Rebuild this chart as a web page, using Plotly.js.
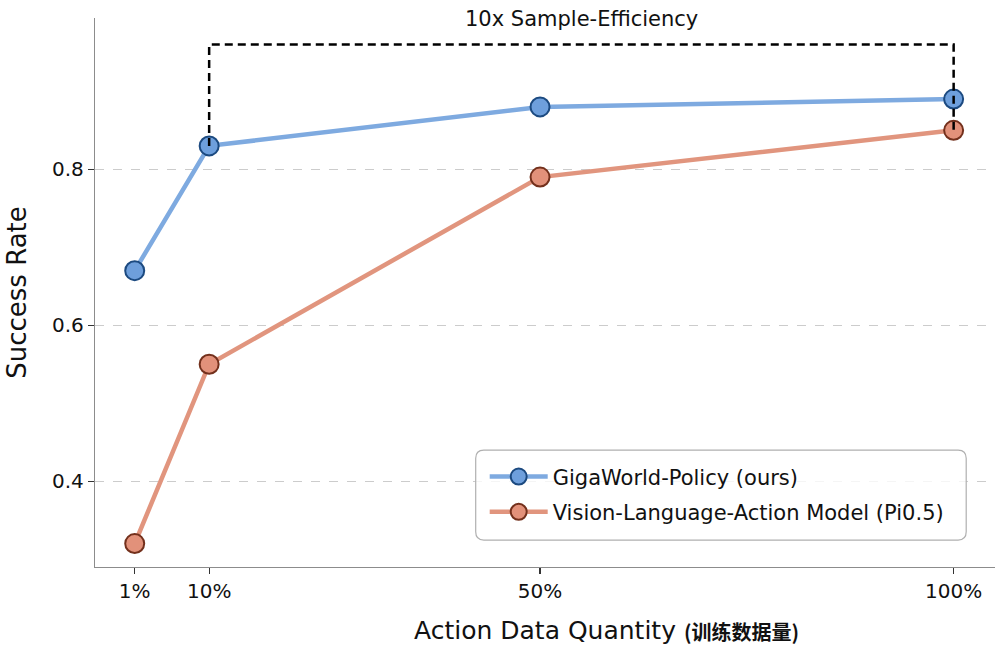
<!DOCTYPE html>
<html>
<head>
<meta charset="utf-8">
<script src="https://cdn.plot.ly/plotly-3.0.1.min.js"></script>
<style>html,body{margin:0;padding:0;background:#fff;}#chart{width:1000px;height:648px;}</style>
</head>
<body>
<div id="chart"></div>
<script>
const xValues = [1, 10, 50, 100];
const xTickLabels = ['1%', '10%', '50%', '100%'];
const gigaWorld = [0.67, 0.83, 0.88, 0.89];
const vlaPi05 = [0.32, 0.55, 0.79, 0.85];
const bracketX = [10, 10, 100, 100];
const bracketY = [0.83, 0.96, 0.96, 0.85];
const yTicks = [0.4, 0.6, 0.8];

const font = "DejaVu Sans, Noto Sans CJK SC, sans-serif";

const traces = [
  {
    x: xValues, y: gigaWorld, type: 'scatter', mode: 'lines+markers',
    name: 'GigaWorld-Policy (ours)', legendgroup: 'a',
    line: {color: '#7eaae0', width: 4.5},
    marker: {size: 19, color: '#6e9fdc', line: {color: '#1c4a80', width: 2}}
  },
  {
    x: xValues, y: vlaPi05, type: 'scatter', mode: 'lines+markers',
    name: 'Vision-Language-Action Model (Pi0.5)', legendgroup: 'b',
    line: {color: '#e1957e', width: 4.5},
    marker: {size: 19, color: '#e2917a', line: {color: '#73301c', width: 2}}
  },
  {
    x: bracketX, y: bracketY, type: 'scatter', mode: 'lines',
    showlegend: false, hoverinfo: 'skip',
    line: {color: '#000000', width: 2.5, dash: '8px,5px'}
  }
];

const x0 = 0.423, x1 = 0.968, y0 = 0.049, y1 = 0.213, rx = 0.009, ry = 0.015;
const legendPath = `M ${x0+rx},${y0} L ${x1-rx},${y0} Q ${x1},${y0} ${x1},${y0+ry} L ${x1},${y1-ry} Q ${x1},${y1} ${x1-rx},${y1} L ${x0+rx},${y1} Q ${x0},${y1} ${x0},${y1-ry} L ${x0},${y0+ry} Q ${x0},${y0} ${x0+rx},${y0} Z`;

const layout = {
  width: 1000, height: 648,
  margin: {l: 95, r: 5, t: 18, b: 81},
  paper_bgcolor: '#ffffff', plot_bgcolor: '#ffffff',
  font: {family: font, size: 20, color: '#111'},
  showlegend: true,
  legend: {
    x: 0.433, y: 0.2015, xanchor: 'left', yanchor: 'top',
    bgcolor: 'rgba(255,255,255,0)', borderwidth: 0,
    font: {family: font, size: 21, color: '#111'},
    traceorder: 'grouped', tracegroupgap: 5, itemwidth: 58
  },
  xaxis: {
    range: [-3.8, 105],
    tickvals: xValues, ticktext: xTickLabels,
    showgrid: false, zeroline: false,
    showline: true, linecolor: '#8c8c8c', linewidth: 1.2,
    ticks: 'outside', ticklen: 6, tickwidth: 1.2, tickcolor: '#333',
    tickfont: {family: font, size: 20, color: '#111'},
    title: {
      text: 'Action Data Quantity',
      font: {family: font, size: 25, color: '#111'},
      standoff: 19
    }
  },
  yaxis: {
    range: [0.29, 0.994],
    tickvals: yTicks, ticktext: ['0.4', '0.6', '0.8'],
    showgrid: true, gridcolor: '#cccccc', gridwidth: 1, griddash: 'dash',
    zeroline: false,
    showline: true, linecolor: '#8c8c8c', linewidth: 1.2,
    ticks: 'outside', ticklen: 6, tickwidth: 1.2, tickcolor: '#333',
    tickfont: {family: font, size: 20, color: '#111'},
    title: {
      text: 'Success Rate',
      font: {family: font, size: 26, color: '#111'},
      standoff: 17
    }
  },
  shapes: [
    {type: 'path', xref: 'paper', yref: 'paper', path: legendPath,
     line: {color: '#b0b0b0', width: 1.2}, fillcolor: 'rgba(255,255,255,0.8)', layer: 'above'}
  ],
  annotations: [
    {x: 55, y: 0.96, xref: 'x', yref: 'y', yanchor: 'bottom', yshift: 12,
     text: '10x Sample-Efficiency', showarrow: false,
     font: {family: font, size: 21, color: '#111'}},
    {x: 0.652, y: -0.1166, xref: 'paper', yref: 'paper', xanchor: 'left', yanchor: 'middle',
     text: '<b>(训练数据量)</b>', showarrow: false,
     font: {family: "Noto Sans CJK SC, DejaVu Sans, sans-serif", size: 20, color: '#111'}}
  ]
};

Plotly.newPlot('chart', traces, layout, {displayModeBar: false, staticPlot: true});
</script>
</body>
</html>
